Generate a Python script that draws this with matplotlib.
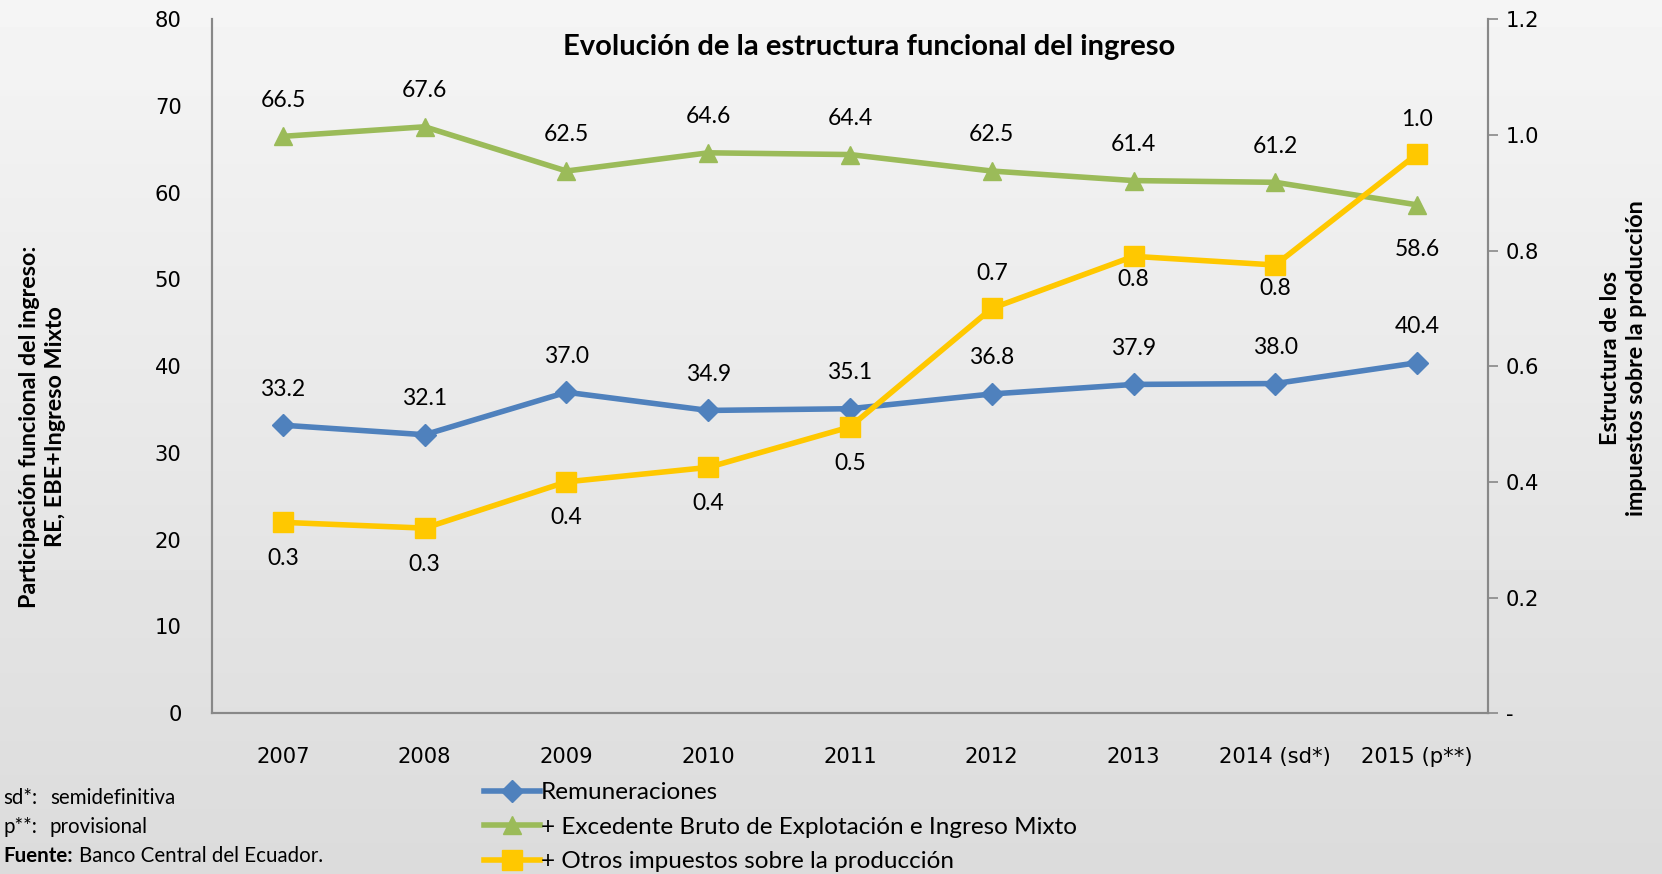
#!/usr/bin/env python3

import numpy as np
import matplotlib
matplotlib.use("Agg")
from matplotlib import pyplot as plt

matplotlib.rcParams['font.size'] = 14

years = ["2007", "2008", "2009", "2010", "2011", "2012", "2013", "2014 (sd*)", "2015 (p**)"]
remuneraciones = [33.2, 32.1, 37.0, 34.9, 35.1, 36.8, 37.9, 38.0, 40.4]
excedente = [66.5, 67.6, 62.5, 64.6, 64.4, 62.5, 61.4, 61.2, 58.6]
otros_impuestos = [0.33, 0.32, 0.40, 0.425, 0.495, 0.70, 0.79, 0.775, 0.967]

blue = "#4F81BD"
green = "#9BBB59"
yellow = "#FFC800"
label_font = "Lato"

fig = plt.figure(figsize=(16.62, 8.74), dpi=100)

# soft grey backdrop standing in for the blurred photo
bg = fig.add_axes([0, 0, 1, 1], zorder=-10)
grad = np.linspace(0.96, 0.86, 256)[:, None] * np.ones((1, 256))
bg.imshow(grad, cmap="gray", vmin=0, vmax=1, aspect="auto", extent=[0, 1, 0, 1])
bg.axis("off")

ax = fig.add_axes([0.1276, 0.184, 0.7677, 0.794])
ax.patch.set_alpha(0)
ax2 = ax.twinx()

x = np.arange(len(years))

l1, = ax.plot(x, remuneraciones, "-D", color=blue, lw=4, markersize=11, label="Remuneraciones")
l2, = ax.plot(x, excedente, "-^", color=green, lw=4, markersize=13,
              label="+ Excedente Bruto de Explotación e Ingreso Mixto")
l3, = ax2.plot(x, otros_impuestos, "-s", color=yellow, lw=4, markersize=14,
               label="+ Otros impuestos sobre la producción")

ax.set_xlim(-0.5, len(years) - 0.5)
ax.set_ylim(0, 80)
ax2.set_ylim(0, 1.2)

# data labels
for i, v in enumerate(remuneraciones):
    ax.annotate(f"{v:.1f}", (i, v), xytext=(0, 26), textcoords="offset points",
                ha="center", va="center", fontsize=16.5, family=label_font)
for i, v in enumerate(excedente):
    dy = -32 if i == len(excedente) - 1 else 26
    ax.annotate(f"{v:.1f}", (i, v), xytext=(0, dy), textcoords="offset points",
                ha="center", va="center", fontsize=16.5, family=label_font)
for i, v in enumerate(otros_impuestos):
    dy = 25 if i in (5, 8) else (-17 if i in (6, 7) else -26)
    ax2.annotate(f"{v:.1f}", (i, v), xytext=(0, dy), textcoords="offset points",
                 ha="center", va="center", fontsize=16.5, family=label_font)

ax.set_yticks(range(0, 81, 10))
ax2.set_yticks([0, 0.2, 0.4, 0.6, 0.8, 1.0, 1.2])
ax2.set_yticklabels(["-", "0.2", "0.4", "0.6", "0.8", "1.0", "1.2"])
ax.set_xticks(x)
ax.set_xticklabels(years)

ax.tick_params(axis="y", length=0, pad=22, labelsize=15.2)
ax.tick_params(axis="x", length=0, pad=24, labelsize=15.2)
ax2.tick_params(axis="y", length=7, width=1.2, color="#888888", pad=6, labelsize=15.2)

for a in (ax, ax2):
    a.spines["top"].set_visible(False)
    for s in ("left", "right", "bottom"):
        a.spines[s].set_color("#888888")
        a.spines[s].set_linewidth(1.5)

ax.text(0.515, 0.96, "Evolución de la estructura funcional del ingreso", transform=ax.transAxes,
        ha="center", va="center", fontsize=21, fontweight="bold", family=label_font)

fig.text(0.0255, 0.512, "Participación funcional del ingreso:\nRE, EBE+Ingreso Mixto", rotation=90,
         ha="center", va="center", fontsize=16.8, fontweight="bold", family=label_font,
         linespacing=1.3)
fig.text(0.977, 0.59, "Estructura de los\nimpuestos sobre la producción", rotation=90,
         ha="center", va="center", fontsize=16.8, fontweight="bold", family=label_font,
         linespacing=1.3)

fig.legend(handles=[l1, l2, l3], loc="upper left", bbox_to_anchor=(0.291, 0.105),
           frameon=False, handlelength=2.3, handletextpad=0.05,
           labelspacing=0.55, borderaxespad=0, borderpad=0,
           prop={"family": label_font, "size": 17.5})

# footnotes at the lower left corner
fig.text(0.002, 0.087, "sd*:", ha="left", va="center", fontsize=14.8, family=label_font)
fig.text(0.030, 0.087, "semidefinitiva", ha="left", va="center", fontsize=14.8, family=label_font)
fig.text(0.002, 0.054, "p**:", ha="left", va="center", fontsize=14.8, family=label_font)
fig.text(0.030, 0.054, "provisional", ha="left", va="center", fontsize=14.8, family=label_font)
fig.text(0.002, 0.021, "Fuente:", ha="left", va="center", fontsize=14.8, fontweight="bold",
         family=label_font)
fig.text(0.0475, 0.021, "Banco Central del Ecuador.", ha="left", va="center", fontsize=14.8,
         family=label_font)

plt.savefig("out.png", dpi=100)
